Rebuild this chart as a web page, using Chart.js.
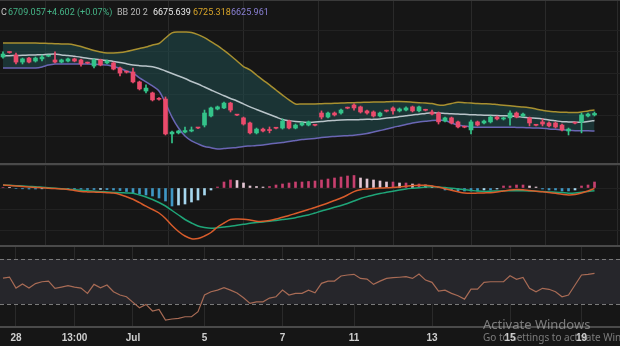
<!DOCTYPE html>
<html>
<head>
<meta charset="utf-8">
<script src="https://cdn.jsdelivr.net/npm/chart.js"></script>
<style>
  html, body { margin: 0; padding: 0; background: #161616; }
  #wrap { position: relative; width: 620px; height: 346px; overflow: hidden; }
  .pane { position: absolute; left: 0; width: 620px; }
  .sep { position: absolute; left: 0; width: 620px; height: 2px; background: #4a4a4a; }
  #legend { position: absolute; left: 0; top: 6px; height: 12px; width: 620px; font-family: Roboto, sans-serif; font-size: 9px; line-height: 12px; white-space: nowrap; }
  #legend span { position: absolute; top: 0; }
  .wm { position: absolute; color: rgba(190,190,190,0.6); font-family: "Noto Sans", sans-serif; white-space: nowrap; line-height: 1; }
</style>
</head>
<body>
<div id="wrap">
  <div class="pane" style="top:0;height:163px"><canvas id="price"></canvas></div>
  <div class="pane" style="top:165px;height:80px"><canvas id="macd"></canvas></div>
  <div class="pane" style="top:247px;height:99px"><canvas id="rsi"></canvas></div>
  <div class="sep" style="top:0;height:1px;background:#3a3a3a"></div>
  <div class="sep" style="top:163px"></div>
  <div class="sep" style="top:245px"></div>
  <div class="sep" style="top:326px"></div>
  <div id="legend">
    <span style="left:1px;color:#c8c8c8">C</span>
    <span style="left:8px;color:#45b487">6709.057</span>
    <span style="left:47px;color:#45b487">+4.602 (+0.07%)</span>
    <span style="left:117px;color:#b8b8b8">BB 20 2</span>
    <span style="left:153px;color:#ececec">6675.639</span>
    <span style="left:193px;color:#d8a52a">6725.318</span>
    <span style="left:231px;color:#8a80d4">6625.961</span>
  </div>
  <div class="wm" style="left:483px;top:318px;font-size:13px">Activate Windows</div>
  <div class="wm" style="left:483px;top:332px;font-size:10px">Go to Settings to activate Windows.</div>
</div>
<script>
// x axis labels and the candle index they sit on
const tickIdx = [2, 11, 20, 31, 43, 54, 66, 78, 89];
const tickLabels = ['28', '13:00', 'Jul', '5', '7', '11', '13', '15', '19'];

// candles
const open = [6976, 6998, 6985, 6952, 6971, 6957, 6967, 6980, 6962, 6952,
  6957, 6967, 6962, 6949, 6933, 6962, 6948, 6948, 6924, 6906,
  6905, 6858, 6815, 6806, 6780, 6777, 6612, 6617, 6621, 6626,
  6641, 6654, 6697, 6730, 6735, 6758, 6703, 6688, 6664, 6617,
  6635, 6633, 6641, 6640, 6673, 6640, 6654, 6654, 6655, 6711,
  6692, 6711, 6711, 6736, 6749, 6740, 6721, 6716, 6697, 6722,
  6735, 6721, 6725, 6740, 6721, 6726, 6716, 6711, 6673, 6688,
  6669, 6646, 6631, 6669, 6664, 6669, 6692, 6683, 6688, 6711,
  6697, 6688, 6655, 6669, 6664, 6664, 6654, 6626, 6665, 6669,
  6697, 6702];
const high = [7000, 7001, 6995, 6971, 6975, 6976, 6985, 6985, 7000, 6966,
  6971, 6971, 6966, 6952, 6967, 6966, 6961, 6952, 6928, 6910,
  6924, 6862, 6844, 6810, 6784, 6787, 6626, 6630, 6645, 6645,
  6643, 6725, 6739, 6744, 6763, 6762, 6705, 6692, 6668, 6640,
  6640, 6645, 6643, 6683, 6678, 6659, 6668, 6673, 6658, 6721,
  6716, 6716, 6730, 6739, 6754, 6744, 6725, 6721, 6716, 6725,
  6740, 6735, 6740, 6744, 6744, 6729, 6725, 6716, 6692, 6692,
  6673, 6649, 6678, 6673, 6678, 6697, 6697, 6692, 6721, 6716,
  6711, 6692, 6658, 6683, 6669, 6669, 6659, 6640, 6668, 6711,
  6711, 6716];
const low = [6971, 6994, 6943, 6943, 6948, 6952, 6957, 6977, 6948, 6948,
  6953, 6953, 6933, 6944, 6924, 6934, 6944, 6915, 6886, 6900,
  6853, 6820, 6806, 6768, 6772, 6607, 6569, 6612, 6617, 6622,
  6637, 6645, 6692, 6726, 6731, 6716, 6699, 6654, 6612, 6612,
  6622, 6617, 6636, 6635, 6636, 6636, 6650, 6650, 6650, 6683,
  6688, 6697, 6706, 6731, 6725, 6711, 6706, 6692, 6692, 6716,
  6706, 6716, 6721, 6716, 6716, 6721, 6702, 6659, 6669, 6659,
  6640, 6641, 6612, 6650, 6659, 6664, 6678, 6678, 6654, 6688,
  6692, 6650, 6650, 6650, 6645, 6640, 6626, 6607, 6660, 6617,
  6692, 6697];
const close = [6990, 6997, 6952, 6967, 6952, 6971, 6976, 6982, 6952, 6962,
  6967, 6957, 6943, 6947, 6962, 6938, 6957, 6919, 6900, 6904,
  6858, 6825, 6829, 6773, 6776, 6612, 6621, 6626, 6628, 6631,
  6640, 6711, 6735, 6740, 6758, 6725, 6701, 6659, 6617, 6635,
  6626, 6628, 6639, 6673, 6640, 6654, 6664, 6669, 6653, 6692,
  6711, 6702, 6725, 6734, 6735, 6716, 6711, 6697, 6711, 6720,
  6721, 6730, 6735, 6721, 6740, 6724, 6706, 6669, 6688, 6664,
  6645, 6644, 6669, 6654, 6673, 6692, 6683, 6688, 6711, 6692,
  6706, 6664, 6653, 6659, 6650, 6645, 6631, 6635, 6663, 6702,
  6706, 6709];

// Bollinger bands (20, 2)
const bbUpper = [7042, 7042, 7042, 7042, 7042, 7042, 7041, 7040, 7039, 7038,
  7037, 7033, 7026, 7016, 7007, 7000, 6995, 6995, 6997, 7002,
  7009, 7016, 7023, 7033, 7040, 7066, 7090, 7094, 7094, 7092,
  7082, 7068, 7049, 7030, 7007, 6983, 6957, 6931, 6915, 6891,
  6867, 6844, 6820, 6796, 6773, 6754, 6754, 6754, 6754, 6755,
  6756, 6757, 6758, 6759, 6760, 6761, 6762, 6763, 6763, 6764,
  6765, 6765, 6764, 6762, 6760, 6758, 6756, 6749, 6749, 6756,
  6762, 6760, 6758, 6756, 6755, 6754, 6751, 6748, 6745, 6742,
  6740, 6736, 6730, 6724, 6719, 6717, 6715, 6714, 6713, 6716,
  6721, 6725];
const bbMid = [6981, 6982, 6983, 6984, 6985, 6986, 6987, 6989, 6990, 6986,
  6983, 6979, 6975, 6970, 6967, 6963, 6959, 6955, 6950, 6944,
  6938, 6935, 6933, 6930, 6922, 6910, 6898, 6886, 6874, 6860,
  6848, 6834, 6820, 6806, 6793, 6780, 6768, 6754, 6740, 6728,
  6716, 6704, 6692, 6680, 6675, 6671, 6669, 6666, 6669, 6671,
  6674, 6676, 6678, 6679, 6679, 6680, 6681, 6681, 6683, 6688,
  6690, 6694, 6698, 6702, 6705, 6709, 6712, 6711, 6709, 6707,
  6706, 6705, 6703, 6702, 6701, 6700, 6699, 6698, 6697, 6695,
  6691, 6688, 6686, 6683, 6678, 6674, 6670, 6669, 6668, 6668,
  6671, 6676];
const bbLower = [6924, 6924, 6924, 6924, 6924, 6924, 6929, 6938, 6943, 6943,
  6943, 6943, 6943, 6943, 6942, 6940, 6938, 6931, 6922, 6910,
  6900, 6877, 6858, 6839, 6815, 6758, 6692, 6640, 6602, 6579,
  6565, 6553, 6547, 6541, 6543, 6546, 6548, 6553, 6555, 6557,
  6560, 6565, 6568, 6572, 6576, 6581, 6586, 6588, 6591, 6595,
  6598, 6600, 6602, 6604, 6606, 6609, 6614, 6621, 6628, 6635,
  6643, 6650, 6657, 6664, 6669, 6672, 6676, 6677, 6676, 6664,
  6654, 6650, 6645, 6644, 6644, 6644, 6644, 6644, 6644, 6643,
  6642, 6641, 6640, 6639, 6636, 6634, 6632, 6629, 6627, 6627,
  6627, 6626];

// MACD
const macdLine = [3, 2.5, 2, 1.5, 1, 0.6, 0.2, -0.2, -0.6, -1,
  -1.4, -2.5, -3.5, -3.9, -4.1, -4.3, -4.7, -5.1, -6.5, -8.8,
  -11.3, -14.7, -18.2, -21.5, -25, -30.5, -37.5, -43.5, -48, -50.7,
  -50.5, -48, -44.5, -39, -35, -31.5, -31, -31.2, -32, -33.2,
  -33.3, -32.5, -31, -29.2, -27.5, -25.5, -23.5, -21.5, -19.5, -17.3,
  -15, -12.5, -10, -7, -3.6, -1.8, -1, -0.5, -0.1, 0.2,
  0.5, 1, 1.7, 2.4, 2.8, 2.8, 2, 1, -0.7, -2.3,
  -3.8, -5, -5.3, -5.1, -4.9, -4.7, -4, -3, -2, -1.4,
  -1.8, -2.5, -3.2, -3.7, -4.5, -5.3, -6.2, -6.9, -6.5, -5,
  -3, -0.5];
const signalLine = [3, 2.7, 2.3, 2, 1.6, 1.3, 0.8, 0.3, -0.2, -0.8,
  -1.3, -1.8, -2.3, -2.8, -3.3, -3.7, -4, -4.4, -4.7, -5,
  -5.3, -7, -9, -11.5, -14.5, -18, -22.5, -27, -31.5, -35,
  -38, -39.5, -40.3, -39.8, -39, -38.2, -37.2, -36.3, -35.3, -34.6,
  -33.9, -33.2, -32.4, -31.5, -30.7, -29.7, -28.3, -27, -25, -23,
  -21.2, -19.3, -17.5, -15.5, -13, -10.5, -8.6, -7, -5.5, -4.3,
  -3.2, -2, -1, -0.3, 0.3, 0.9, 1.2, 1, 0.4, -0.2,
  -0.9, -1.7, -2.4, -3.1, -3.5, -3.2, -3, -2.8, -2.7, -2.7,
  -2.7, -2.9, -3.3, -3.6, -3.9, -4.2, -4.6, -5.2, -5, -4.2,
  -3.4, -2.7];
const macdHist = [0.5, 0.3, -0.5, -0.8, -1, -1, -0.8, -0.6, -0.5, -0.6,
  -0.8, -1, -1.2, -1.5, -1.5, -1.4, -1.6, -2, -2.5, -3.5,
  -5, -6, -7, -8, -10, -13, -18, -17, -16, -14,
  -12, -7, -2, 1, 6, 8, 7.5, 5, 2, 1.5,
  1, 1.5, 3, 4, 5, 6, 6, 6.5, 7, 8,
  9, 10, 11, 12, 12.5, 10, 9, 8, 7, 6,
  6, 5, 5, 4, 4, 3, 2, 0.5, -2, -2,
  -3, -3, -3, -3, -2, -2, -1, 2, 2, 3,
  3, 2, 1, -1, -2, -2, -3, -3, -2, 2,
  3, 6];

// RSI 14
const rsi = [53.1, 54.0, 44.2, 47.8, 44.2, 48.2, 49.8, 50.4, 44.0, 45.1,
  46.3, 45.1, 44.2, 39.5, 47.5, 44.5, 46.9, 40.9, 38.0, 36.5,
  31.5, 26.7, 29.7, 23.8, 25.3, 15.8, 16.7, 17.3, 18.7, 18.7,
  23.2, 38.0, 40.9, 42.4, 44.5, 42.4, 39.8, 35.6, 30.6, 32.0,
  32.0, 35.3, 36.5, 42.4, 38.0, 39.5, 39.5, 42.4, 40.0, 48.4,
  50.4, 50.4, 54.9, 55.8, 56.4, 52.8, 52.2, 47.5, 50.4, 52.8,
  53.4, 53.8, 54.3, 52.8, 56.7, 51.3, 49.3, 41.6, 42.4, 39.5,
  37.4, 34.4, 43.3, 43.3, 49.3, 49.8, 49.8, 49.8, 55.2, 52.0,
  53.7, 44.0, 40.9, 44.0, 43.1, 40.9, 36.5, 38.0, 46.9, 55.8,
  56.4, 57.3];

const UP = '#34c48a', DOWN = '#ea4b6c';
const GRID = '#2a2a2a';
const FONT = '"Liberation Sans Narrow", "Liberation Sans", sans-serif';

const idx = close.map((_, i) => i);
const pts = arr => idx.map(i => ({ x: i, y: arr[i] }));
const candleColors = idx.map(i => close[i] >= open[i] ? UP : DOWN);
const histColors = macdHist.map((v, i) => {
  const prev = i > 0 ? macdHist[i - 1] : 0;
  if (v >= 0) return v >= prev ? '#c63f6e' : '#e3c6d3';
  return v <= prev ? '#3f97c4' : '#a6d7ef';
});

function xScale(showLabels) {
  return {
    type: 'linear',
    min: -0.46,
    max: 94.92,
    offset: false,
    afterBuildTicks: s => { s.ticks = tickIdx.map(v => ({ value: v })); },
    afterFit: s => { s.height = showLabels ? 19 : 0; },
    grid: { color: GRID, drawTicks: false },
    border: { display: false },
    ticks: {
      display: showLabels,
      autoSkip: false,
      maxRotation: 0,
      padding: 5,
      color: '#cfcfcf',
      font: { family: FONT, size: 10, weight: 'bold' },
      callback: (v, i) => tickLabels[i]
    }
  };
}

function yScale(min, max, step, showGrid) {
  return {
    min: min,
    max: max,
    afterFit: s => { s.width = 0; },
    grid: { display: showGrid, color: '#222222', drawTicks: false },
    border: { display: false },
    ticks: { display: false, stepSize: step }
  };
}

const baseOptions = {
  responsive: true,
  maintainAspectRatio: false,
  animation: false,
  layout: { padding: 0 },
  plugins: { legend: { display: false }, tooltip: { enabled: false } }
};

// price pane
new Chart(document.getElementById('price'), {
  type: 'bar',
  data: {
    datasets: [
      { type: 'line', data: pts(bbUpper), borderColor: '#a89030', borderWidth: 1.5, pointRadius: 0, tension: 0.3,
        fill: '+2', backgroundColor: 'rgba(32,78,80,0.55)', order: 2 },
      { type: 'line', data: pts(bbMid), borderColor: '#b9c4c9', borderWidth: 1.5, pointRadius: 0, tension: 0.3, fill: false, order: 2 },
      { type: 'line', data: pts(bbLower), borderColor: '#6a66b4', borderWidth: 1.5, pointRadius: 0, tension: 0.3, fill: false, order: 2 },
      { data: idx.map(i => ({ x: i, y: [low[i], high[i]] })), backgroundColor: candleColors,
        barThickness: 1, grouped: false, order: 1 },
      { data: idx.map(i => ({ x: i, y: [open[i], close[i]] })), backgroundColor: candleColors,
        barThickness: 4, minBarLength: 1, grouped: false, order: 0 }
    ]
  },
  options: Object.assign({}, baseOptions, {
    plugins: Object.assign({}, baseOptions.plugins, { filler: { drawTime: 'beforeDatasetsDraw' } }),
    scales: { x: xScale(false), y: yScale(6474.6, 7245.6, 100, true) }
  })
});

// MACD pane
new Chart(document.getElementById('macd'), {
  type: 'bar',
  data: {
    datasets: [
      { type: 'line', data: pts(macdLine), borderColor: '#d95c2b', borderWidth: 1.5, pointRadius: 0, tension: 0.3, order: 0 },
      { type: 'line', data: pts(signalLine), borderColor: '#1fa679', borderWidth: 1.5, pointRadius: 0, tension: 0.3, order: 1 },
      { data: pts(macdHist), backgroundColor: histColors, barThickness: 2, grouped: false, order: 2 }
    ]
  },
  options: Object.assign({}, baseOptions, {
    scales: { x: xScale(false), y: yScale(-57, 23, 21, true) }
  })
});

// RSI band 70 / 30
const rsiBands = {
  id: 'rsiBands',
  beforeDatasetsDraw(chart) {
    const { ctx, chartArea: a, scales: { y } } = chart;
    const top = y.getPixelForValue(70), bot = y.getPixelForValue(30);
    ctx.save();
    ctx.fillStyle = '#26262b';
    ctx.fillRect(a.left, top, a.right - a.left, bot - top);
    ctx.strokeStyle = '#7a7a7a';
    ctx.lineWidth = 1;
    ctx.setLineDash([4, 3]);
    [top, bot].forEach(p => {
      ctx.beginPath();
      ctx.moveTo(a.left, Math.round(p) + 0.5);
      ctx.lineTo(a.right, Math.round(p) + 0.5);
      ctx.stroke();
    });
    ctx.restore();
  }
};

new Chart(document.getElementById('rsi'), {
  type: 'line',
  data: {
    datasets: [
      { data: pts(rsi), borderColor: '#a86b55', borderWidth: 1.2, pointRadius: 0, tension: 0 }
    ]
  },
  options: Object.assign({}, baseOptions, {
    scales: { x: xScale(true), y: yScale(9.6, 80.7, 10, false) }
  }),
  plugins: [rsiBands]
});
</script>
</body>
</html>
